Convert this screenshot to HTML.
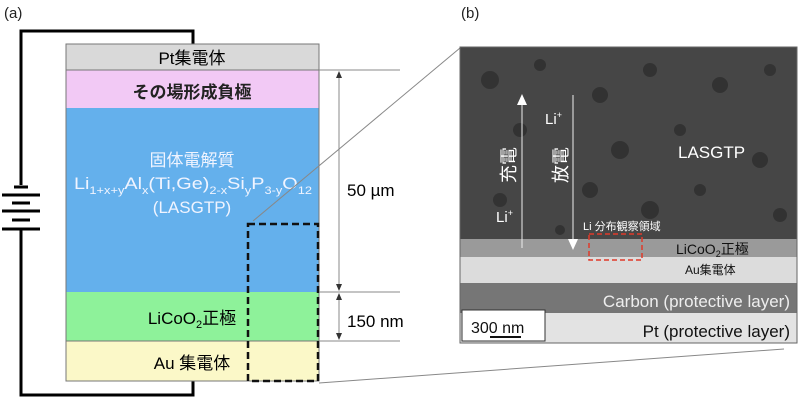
<!DOCTYPE html>
<html><head><meta charset="utf-8"><style>
body{margin:0;background:#fff}
svg{display:block}
text{font-family:"Liberation Sans","Noto Sans CJK JP",sans-serif}
</style></head><body>
<svg width="800" height="400" viewBox="0 0 800 400">
<text x="4" y="18" font-size="15" fill="#222">(a)</text>
<text x="461" y="18" font-size="15" fill="#222">(b)</text>
<polyline points="193,44 193,31 21,31 21,185" fill="none" stroke="#000" stroke-width="3"/>
<polyline points="193,381 193,395 21,395 21,229" fill="none" stroke="#000" stroke-width="3"/>
<line x1="2" y1="195" x2="40" y2="195" stroke="#000" stroke-width="3"/>
<line x1="12" y1="203" x2="30" y2="203" stroke="#000" stroke-width="3"/>
<line x1="2" y1="211" x2="40" y2="211" stroke="#000" stroke-width="3"/>
<line x1="12" y1="220" x2="30" y2="220" stroke="#000" stroke-width="3"/>
<line x1="2" y1="229" x2="40" y2="229" stroke="#000" stroke-width="3"/>
<line x1="14" y1="187" x2="28" y2="187" stroke="#000" stroke-width="3"/>
<rect x="66" y="44" width="253" height="26" fill="#d9d9d9" stroke="#666"/>
<rect x="66" y="70" width="253" height="38" fill="#f2c9f5"/>
<rect x="66" y="108" width="253" height="184" fill="#64b0ec"/>
<rect x="66" y="292" width="253" height="49" fill="#8ef29a"/>
<rect x="66" y="341" width="253" height="40" fill="#fbf8c8"/>
<rect x="66" y="44" width="253" height="337" fill="none" stroke="#777"/>
<line x1="66" y1="70" x2="319" y2="70" stroke="#777"/>
<line x1="66" y1="341" x2="319" y2="341" stroke="#777"/>
<text x="192" y="64" font-size="17" text-anchor="middle">Pt集電体</text>
<text x="192" y="98" font-size="17" text-anchor="middle" font-weight="bold" fill="#222">その場形成負極</text>
<text x="192" y="166" font-size="17" text-anchor="middle" fill="#f0f4ff">固体電解質</text>
<text x="74" y="189" font-size="17" fill="#f0f4ff" textLength="238" lengthAdjust="spacingAndGlyphs">Li<tspan font-size="11" dy="5">1+x+y</tspan><tspan dy="-5">Al</tspan><tspan font-size="11" dy="5">x</tspan><tspan dy="-5">(Ti,Ge)</tspan><tspan font-size="11" dy="5">2-x</tspan><tspan dy="-5">Si</tspan><tspan font-size="11" dy="5">y</tspan><tspan dy="-5">P</tspan><tspan font-size="11" dy="5">3-y</tspan><tspan dy="-5">O</tspan><tspan font-size="11" dy="5">12</tspan></text>
<text x="192" y="213" font-size="17" text-anchor="middle" fill="#f0f4ff">(LASGTP)</text>
<text x="192" y="324" font-size="17" text-anchor="middle">LiCoO<tspan font-size="11" dy="4">2</tspan><tspan dy="-4">正極</tspan></text>
<text x="192" y="369" font-size="17" text-anchor="middle">Au 集電体</text>
<rect x="248" y="224" width="70" height="157" fill="none" stroke="#111" stroke-width="2.5" stroke-dasharray="7,4"/>
<g stroke="#888" stroke-width="1">
<line x1="319" y1="70" x2="400" y2="70"/><line x1="319" y1="292" x2="400" y2="292"/><line x1="319" y1="341" x2="400" y2="341"/>
<line x1="339" y1="72" x2="339" y2="290"/><line x1="339" y1="294" x2="339" y2="339"/>
<line x1="253" y1="221" x2="460" y2="48"/>
<line x1="319" y1="383" x2="784" y2="349"/>
</g>
<g fill="#333"><path d="M339,71 l-3,7 h6z"/><path d="M339,291 l-3,-7 h6z"/><path d="M339,293 l-3,7 h6z"/><path d="M339,340 l-3,-7 h6z"/></g>
<text x="347" y="196" font-size="17">50 µm</text>
<text x="347" y="327" font-size="17">150 nm</text>
<rect x="460" y="47" width="337" height="296" fill="#464646"/>
<g fill="#2e2e2e" opacity="0.8">
<circle cx="490" cy="80" r="9"/><circle cx="540" cy="65" r="6"/><circle cx="600" cy="95" r="8"/><circle cx="650" cy="70" r="7"/><circle cx="720" cy="85" r="8"/><circle cx="770" cy="70" r="6"/><circle cx="520" cy="130" r="7"/><circle cx="620" cy="150" r="9"/><circle cx="680" cy="130" r="6"/><circle cx="760" cy="160" r="8"/><circle cx="500" cy="200" r="7"/><circle cx="590" cy="190" r="8"/><circle cx="650" cy="210" r="9"/><circle cx="700" cy="190" r="6"/><circle cx="780" cy="215" r="7"/><circle cx="560" cy="230" r="5"/>
</g>
<rect x="460" y="239" width="337" height="19" fill="#9a9a9a"/>
<rect x="460" y="257" width="337" height="26" fill="#dcdcdc"/>
<rect x="460" y="283" width="337" height="30" fill="#767676"/>
<rect x="460" y="313" width="337" height="30" fill="#e3e3e3"/>
<rect x="460" y="47" width="337" height="296" fill="none" stroke="#666"/>
<line x1="522" y1="248" x2="522" y2="100" stroke="#eee"/><path d="M522,94 l-5,11 h10z" fill="#fff"/>
<line x1="573" y1="95" x2="573" y2="244" stroke="#eee"/><path d="M573,250 l-5,-11 h10z" fill="#fff"/>
<text x="545" y="124" font-size="15" fill="#fff">Li<tspan font-size="9" dy="-6">+</tspan></text>
<text x="496" y="222" font-size="15" fill="#fff">Li<tspan font-size="9" dy="-6">+</tspan></text>
<text x="509" y="165" font-size="18" fill="#fff" transform="rotate(-90 509 165)" text-anchor="middle" dy="6">充電</text>
<text x="561" y="165" font-size="18" fill="#fff" transform="rotate(-90 561 165)" text-anchor="middle" dy="6">放電</text>
<text x="678" y="158" font-size="17" fill="#fff">LASGTP</text>
<text x="583" y="230" font-size="11" fill="#fff">Li 分布観察領域</text>
<rect x="589" y="234" width="53" height="26" fill="none" stroke="#e03a2a" stroke-width="1.5" stroke-dasharray="5,3"/>
<text x="676" y="254" font-size="14" fill="#111">LiCoO<tspan font-size="9" dy="3">2</tspan><tspan dy="-3">正極</tspan></text>
<text x="685" y="274" font-size="12" fill="#111">Au集電体</text>
<text x="790" y="307" font-size="17" fill="#eee" text-anchor="end">Carbon (protective layer)</text>
<text x="790" y="337" font-size="17" fill="#111" text-anchor="end">Pt (protective layer)</text>
<rect x="462" y="310" width="83" height="31" fill="#fff" stroke="#333"/>
<text x="471" y="333" font-size="16" fill="#111">300 nm</text>
<line x1="490" y1="337" x2="521" y2="337" stroke="#111" stroke-width="2"/>
</svg>
</body></html>
